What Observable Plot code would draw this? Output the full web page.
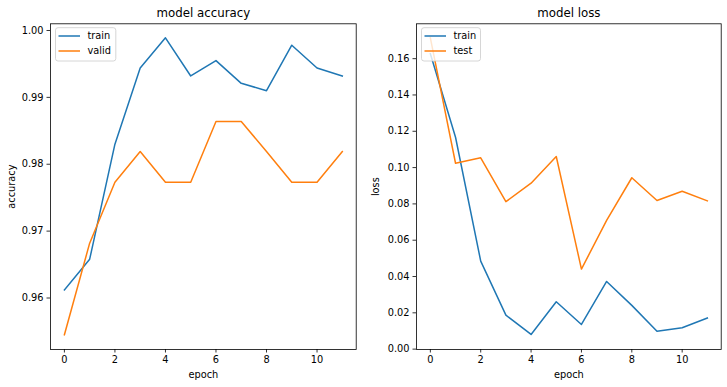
<!DOCTYPE html>
<html><head><meta charset="utf-8">
<script src="https://cdn.jsdelivr.net/npm/d3@7"></script>
<script src="https://cdn.jsdelivr.net/npm/@observablehq/plot@0.6"></script>
<style>
body{margin:0;background:#fff}
#chart{display:flex;width:727px;height:387px;background:#fff}
</style>
</head><body><div id="chart"></div>
<script>
const epochs = [0,1,2,3,4,5,6,7,8,9,10,11];
const accTrain = [0.9612,0.9658,0.9830,0.9944,0.9989,0.9932,0.9955,0.9921,0.9910,0.9978,0.9944,0.9932];
const accValid = [0.9545,0.9682,0.9773,0.9819,0.9773,0.9773,0.9864,0.9864,0.9819,0.9773,0.9773,0.9819];
const lossTrain = [0.1627,0.1167,0.0485,0.0187,0.0081,0.0261,0.0136,0.0373,0.0241,0.0099,0.0118,0.0171];
const lossTest = [0.1715,0.1024,0.1054,0.0812,0.0914,0.1061,0.0441,0.0709,0.0944,0.0819,0.0870,0.0817];
const xTicks = [0,2,4,6,8,10];
const accTicks = [0.96,0.97,0.98,0.99,1.00];
const lossTicks = [0.00,0.02,0.04,0.06,0.08,0.10,0.12,0.14,0.16];
const accNames = ["train","valid"];
const lossNames = ["train","test"];
const colors = ["#1f77b4","#ff7f0e"];

function panel(o) {
  const H = 387, mt = 23.3, mb = 38;
  const plot = Plot.plot({
    width: o.width, height: H,
    marginLeft: o.ml, marginRight: o.mr, marginTop: mt, marginBottom: mb,
    style: {fontFamily: "DejaVu Sans", fontSize: "9.8px", color: "black", background: "white", overflow: "visible"},
    x: {domain: [-0.55, 11.55]},
    y: {domain: o.yDomain},
    marks: [
      Plot.axisX({ticks: xTicks, tickSize: 3.5, tickPadding: 3.5, strokeWidth: 0.8, label: null}),
      Plot.axisY({ticks: o.yTicks, tickFormat: d3.format(".2f"), tickSize: 3.5, tickPadding: 3.5, strokeWidth: 0.8, label: null}),
      ...o.series.map((s, i) => Plot.line(epochs, {x: d => d, y: (d, j) => s[j], stroke: colors[i], strokeWidth: 1.5, strokeLinejoin: "round", strokeLinecap: "square"})),
      Plot.frame({stroke: "black", strokeWidth: 0.8}),
      Plot.text([o.title], {frameAnchor: "top", lineAnchor: "middle", dy: -10.6, fontSize: 11.8}),
      Plot.text(["epoch"], {frameAnchor: "bottom", lineAnchor: "middle", dy: 25.3, fontSize: 9.8}),
      Plot.text([o.ylabel], {frameAnchor: "left", textAnchor: "middle", lineAnchor: "middle", rotate: -90, dx: -o.labelDx, fontSize: 9.8})
    ]
  });
  // legend (upper left)
  const svg = d3.select(plot);
  const bx = o.ml + 5.5, by = 27.7;
  const g = svg.append("g");
  g.append("rect").attr("x", bx).attr("y", by).attr("width", o.legendW).attr("height", 33.3)
    .attr("rx", 2.5).attr("fill", "white").attr("fill-opacity", 0.8).attr("stroke", "#cccccc").attr("stroke-width", 0.8);
  o.names.forEach((n, i) => {
    const y = by + 8.3 + 15 * i;
    g.append("line").attr("x1", bx + 3).attr("x2", bx + 24.5).attr("y1", y).attr("y2", y)
      .attr("stroke", colors[i]).attr("stroke-width", 1.5);
    g.append("text").attr("x", bx + 32).attr("y", y).attr("dy", "0.35em")
      .attr("text-anchor", "start").attr("font-size", 9.8).attr("fill", "black").text(n);
  });
  return plot;
}

const chart = document.getElementById("chart");
chart.append(panel({width: 363, ml: 50, mr: 7.3, yDomain: [0.9523, 1.0010], yTicks: accTicks,
  series: [accTrain, accValid], names: accNames, title: "model accuracy", ylabel: "accuracy", labelDx: 38.3, legendW: 60.3}));
chart.append(panel({width: 364, ml: 53, mr: 6.3, yDomain: [-0.0002, 0.1792], yTicks: lossTicks,
  series: [lossTrain, lossTest], names: lossNames, title: "model loss", ylabel: "loss", labelDx: 40.3, legendW: 59}));
</script>
</body></html>
